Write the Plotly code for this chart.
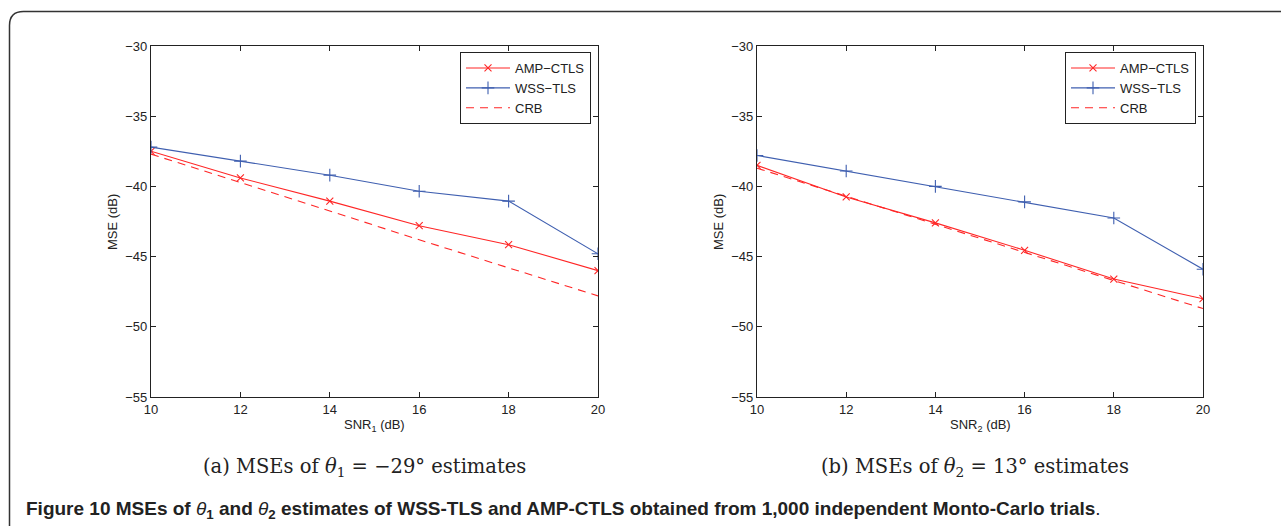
import plotly.graph_objects as go

W, H = 1281, 526

snr = [10, 12, 14, 16, 18, 20]

# panel (a): theta1 = -29 deg
amp_a = [-37.5, -39.4, -41.05, -42.8, -44.15, -46.0]
wss_a = [-37.2, -38.2, -39.2, -40.35, -41.05, -44.8]
crb_a = [-37.7, -39.7, -41.75, -43.8, -45.8, -47.8]

# panel (b): theta2 = 13 deg
amp_b = [-38.5, -40.75, -42.6, -44.55, -46.6, -48.0]
wss_b = [-37.8, -38.9, -40.0, -41.1, -42.25, -45.9]
crb_b = [-38.7, -40.7, -42.7, -44.7, -46.7, -48.7]

series_names = ["AMP−CTLS", "WSS−TLS", "CRB"]
x_ticks = [10, 12, 14, 16, 18, 20]
y_ticks = [-55, -50, -45, -40, -35, -30]

RED = "#ff2626"
BLUE = "#3f5fb0"
INK = "#222222"


def px(x):
    return x / W


def py(y):
    return 1 - y / H


fig = go.Figure()

panels = [
    ("x", "y", "legend", amp_a, wss_a, crb_a),
    ("x2", "y2", "legend2", amp_b, wss_b, crb_b),
]
for xa, ya, lg, amp, wss, crb in panels:
    fig.add_trace(go.Scatter(
        x=snr, y=amp, name=series_names[0], xaxis=xa, yaxis=ya, legend=lg,
        mode="lines+markers",
        line=dict(color=RED, width=1.1),
        marker=dict(symbol="x-thin", size=7, color=RED,
                    line=dict(color=RED, width=1.1)),
    ))
    fig.add_trace(go.Scatter(
        x=snr, y=wss, name=series_names[1], xaxis=xa, yaxis=ya, legend=lg,
        mode="lines+markers",
        line=dict(color=BLUE, width=1.1),
        marker=dict(symbol="cross-thin", size=9, color=BLUE,
                    line=dict(color=BLUE, width=1.1)),
    ))
    fig.add_trace(go.Scatter(
        x=snr, y=crb, name=series_names[2], xaxis=xa, yaxis=ya, legend=lg,
        mode="lines",
        line=dict(color=RED, width=1.1, dash="8px,6px"),
    ))

sans = "Liberation Sans, Arial, sans-serif"
serif = "DejaVu Serif, Liberation Serif, serif"

axis_common = dict(
    showgrid=False, zeroline=False, showline=True, linecolor=INK,
    linewidth=1.3, mirror="allticks", ticks="inside", ticklen=5,
    tickcolor=INK, tickwidth=1,
    tickfont=dict(family=sans, size=13, color=INK),
)

legend_common = dict(
    xanchor="right", yanchor="top",
    bordercolor=INK, borderwidth=1, bgcolor="white",
    font=dict(family=sans, size=13, color=INK),
    itemwidth=44, tracegroupgap=0,
)

y_top, y_bot = 46, 397
fig.update_layout(
    width=W, height=H,
    margin=dict(l=0, r=0, t=0, b=0, autoexpand=False),
    paper_bgcolor="white", plot_bgcolor="white",
    xaxis=dict(domain=[px(151), px(598)], range=[10, 20], tickvals=x_ticks,
               anchor="y", **axis_common),
    yaxis=dict(domain=[py(y_bot), py(y_top)], range=[-55, -30], tickvals=y_ticks,
               anchor="x", **axis_common),
    xaxis2=dict(domain=[px(757), px(1203)], range=[10, 20], tickvals=x_ticks,
                anchor="y2", **axis_common),
    yaxis2=dict(domain=[py(y_bot), py(y_top)], range=[-55, -30], tickvals=y_ticks,
                anchor="x2", **axis_common),
    showlegend=True,
    legend=dict(x=px(591), y=py(52), **legend_common),
    legend2=dict(x=px(1196), y=py(52), **legend_common),
)

annotations = [
    dict(x=px(113), y=py(222), text="MSE (dB)", textangle=-90,
         font=dict(family=sans, size=13, color=INK)),
    dict(x=px(719), y=py(222), text="MSE (dB)", textangle=-90,
         font=dict(family=sans, size=13, color=INK)),
    dict(x=px(374), y=py(425), text="SNR<sub>1</sub> (dB)",
         font=dict(family=sans, size=13, color=INK)),
    dict(x=px(980), y=py(425), text="SNR<sub>2</sub> (dB)",
         font=dict(family=sans, size=13, color=INK)),
    dict(x=px(364), y=py(468),
         text="(a) MSEs of <i>θ</i><sub>1</sub> = −29° estimates",
         font=dict(family=serif, size=19.5, color=INK)),
    dict(x=px(975), y=py(468),
         text="(b) MSEs of <i>θ</i><sub>2</sub> = 13° estimates",
         font=dict(family=serif, size=19.5, color=INK)),
    dict(x=px(24), y=py(510), xanchor="left",
         text=("<b>Figure 10 MSEs of </b><i>θ</i><sub><b>1</b></sub><b> and </b>"
               "<i>θ</i><sub><b>2</b></sub><b> estimates of WSS-TLS and AMP-CTLS "
               "obtained from 1,000 independent Monto-Carlo trials</b>."),
         font=dict(family=sans, size=19, color=INK)),
]
for a in annotations:
    a.setdefault("xref", "paper")
    a.setdefault("yref", "paper")
    a.setdefault("xanchor", "center")
    a.setdefault("yanchor", "middle")
    a.setdefault("showarrow", False)
fig.update_layout(annotations=annotations)

# rounded outer frame
r = 14
x0, y0 = 9.5, 11.5
path = (f"M {px(x0)},{py(560)} L {px(x0)},{py(y0 + r)} "
        f"Q {px(x0)},{py(y0)} {px(x0 + r)},{py(y0)} L {px(1320)},{py(y0)}")
fig.add_shape(type="path", path=path, xref="paper", yref="paper",
              line=dict(color="#333333", width=1.5))

fig.write_html(
    "out.html",
    config={"displayModeBar": False},
    post_script="document.body.style.margin='0';document.body.style.padding='0';"
                "document.body.style.overflow='hidden';",
)
